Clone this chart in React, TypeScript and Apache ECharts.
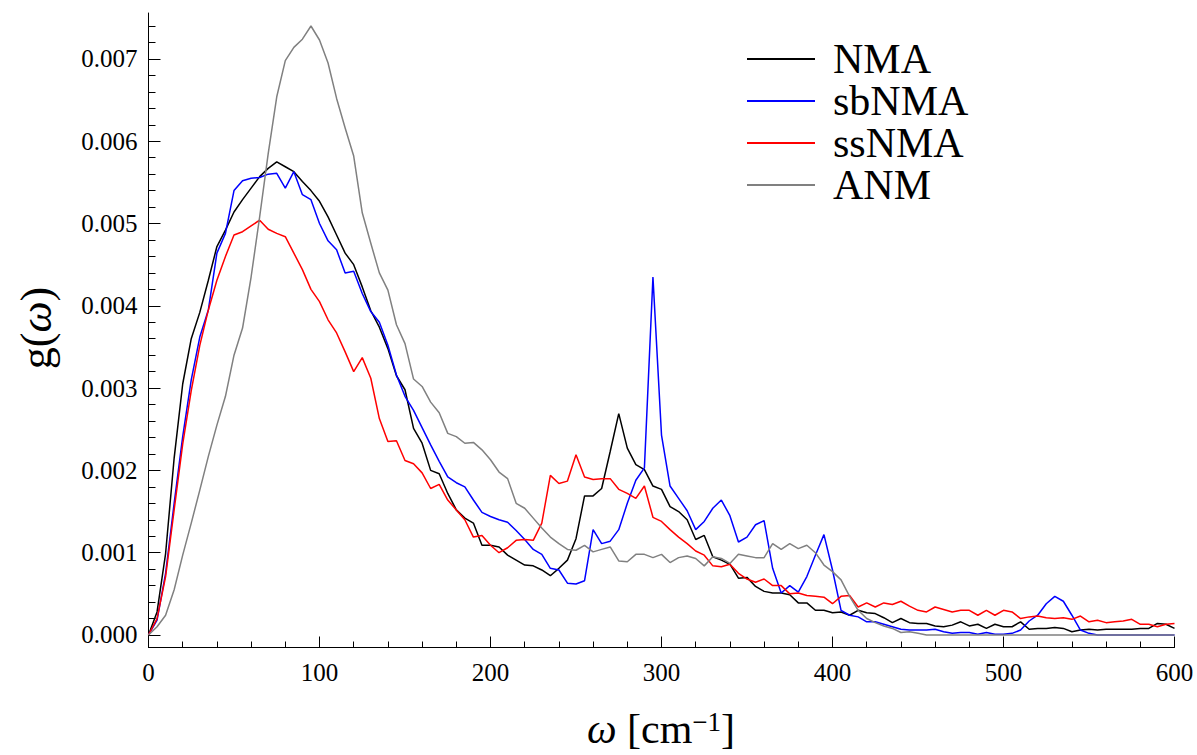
import React, { useEffect, useRef } from "react";
import * as echarts from "echarts";

const omega = [
  0, 5, 10, 15, 20, 25, 30, 35, 40, 45, 50, 55, 60, 65, 70, 75, 80, 85, 90, 95,
  100, 105, 110, 115, 120, 125, 130, 135, 140, 145, 150, 155, 160, 165, 170, 175, 180, 185, 190, 195,
  200, 205, 210, 215, 220, 225, 230, 235, 240, 245, 250, 255, 260, 265, 270, 275, 280, 285, 290, 295,
  300, 305, 310, 315, 320, 325, 330, 335, 340, 345, 350, 355, 360, 365, 370, 375, 380, 385, 390, 395,
  400, 405, 410, 415, 420, 425, 430, 435, 440, 445, 450, 455, 460, 465, 470, 475, 480, 485, 490, 495,
  500, 505, 510, 515, 520, 525, 530, 535, 540, 545, 550, 555, 560, 565, 570, 575, 580, 585, 590, 595,
  600,
];

const nma = [
  0, 0.00028, 0.00099, 0.00215, 0.00305, 0.0036, 0.00392, 0.00431, 0.00472, 0.00492,
  0.00514, 0.00529, 0.00543, 0.00557, 0.00567, 0.00575, 0.00569, 0.00563, 0.00551, 0.0054,
  0.00527, 0.00508, 0.00486, 0.00464, 0.0045, 0.00423, 0.00394, 0.00374, 0.00348, 0.00315,
  0.00298, 0.00251, 0.00233, 0.002, 0.00196, 0.00172, 0.00152, 0.00142, 0.00136, 0.00109,
  0.00109, 0.00107, 0.00097, 0.00091, 0.00085, 0.00084, 0.00079, 0.00072, 0.00081, 0.00091,
  0.00117, 0.00169, 0.00169, 0.00178, 0.00223, 0.00269, 0.00227, 0.00207, 0.00201, 0.00181,
  0.00177, 0.00156, 0.0015, 0.0014, 0.00116, 0.00121, 0.00095, 0.00091, 0.00086, 0.00069,
  0.0007, 0.00059, 0.00053, 0.00051, 0.00051, 0.00049, 0.00039, 0.00039, 0.0003, 0.0003,
  0.00027, 0.00028, 0.00024, 0.0003, 0.00027, 0.00026, 0.00021, 0.00015, 0.0002, 0.00015,
  0.00014, 0.00014, 0.00011, 0.0001, 0.00012, 0.00016, 0.00011, 0.00013, 0.00008, 0.00013,
  0.0001, 0.0001, 0.00016, 0.00007, 0.00008, 0.00008, 0.00009, 0.00008, 0.00004, 0.00006,
  0.00007, 0.00006, 0.00007, 0.00007, 0.00007, 0.00007, 0.00008, 0.00008, 0.00014, 0.00013,
  0.00008,
];

const sbnma = [
  0, 0.00018, 0.00075, 0.0016, 0.00241, 0.0031, 0.00362, 0.00395, 0.00464, 0.00488,
  0.0054, 0.00552, 0.00555, 0.00556, 0.0056, 0.00561, 0.00543, 0.00563, 0.00535, 0.00529,
  0.005, 0.00479, 0.00468, 0.0044, 0.00442, 0.00415, 0.00393, 0.0038, 0.00352, 0.00316,
  0.0029, 0.00273, 0.00252, 0.00231, 0.00211, 0.00192, 0.00185, 0.0018, 0.00164, 0.00149,
  0.00144, 0.0014, 0.00137, 0.00127, 0.00116, 0.00104, 0.00098, 0.00081, 0.00079, 0.00063,
  0.00062, 0.00066, 0.00128, 0.00111, 0.00114, 0.00128, 0.0016, 0.00188, 0.00203, 0.00435,
  0.00243, 0.00181, 0.00166, 0.00151, 0.00128, 0.00138, 0.00154, 0.00164, 0.00145, 0.00113,
  0.00119, 0.00134, 0.00139, 0.00081, 0.00051, 0.0006, 0.00052, 0.00071, 0.00097, 0.00122,
  0.00079, 0.0003, 0.00024, 0.00022, 0.00016, 0.00016, 0.00013, 0.0001, 0.00007, 0.00006,
  0.00006, 0.00006, 0.00007, 0.00004, 0.00002, 0.00003, 0.00003, 0.00001, 0.00003, 0.00001,
  0.00001, 0.00002, 0.00006, 0.00017, 0.00024, 0.00038, 0.00047, 0.00041, 0.00024, 0.00006,
  0.00002, 0, 0, 0, 0, 0, 0, 0, 0, 0,
  0,
];

const ssnma = [
  0, 0.0002, 0.00071, 0.00152, 0.00232, 0.00297, 0.00352, 0.00395, 0.00431, 0.0046,
  0.00486, 0.0049, 0.00497, 0.00504, 0.00493, 0.00488, 0.00484, 0.00464, 0.00444, 0.0042,
  0.00405, 0.00383, 0.00367, 0.00344, 0.0032, 0.00337, 0.00312, 0.00263, 0.00235, 0.00236,
  0.00212, 0.00208, 0.00197, 0.00178, 0.00183, 0.00164, 0.00152, 0.0014, 0.00119, 0.00121,
  0.00109, 0.001, 0.00106, 0.00115, 0.00116, 0.00115, 0.00136, 0.00194, 0.00184, 0.00187,
  0.00219, 0.00192, 0.00189, 0.0019, 0.0019, 0.00177, 0.00172, 0.00166, 0.00181, 0.00143,
  0.00138, 0.00128, 0.00119, 0.00111, 0.00102, 0.00097, 0.00084, 0.00083, 0.00086, 0.00075,
  0.00068, 0.00064, 0.00068, 0.0006, 0.0006, 0.0005, 0.00051, 0.00048, 0.00047, 0.00046,
  0.00038, 0.00047, 0.00048, 0.00034, 0.00039, 0.00034, 0.00039, 0.00037, 0.00041, 0.00035,
  0.0003, 0.00028, 0.00034, 0.00031, 0.00028, 0.0003, 0.0003, 0.00024, 0.0003, 0.00024,
  0.0003, 0.00028, 0.0002, 0.00022, 0.00023, 0.00021, 0.0002, 0.00021, 0.00019, 0.00023,
  0.00016, 0.00018, 0.00015, 0.00016, 0.00017, 0.00019, 0.00013, 0.00013, 0.0001, 0.00013,
  0.00014,
];

const anm = [
  0, 0.0001, 0.00024, 0.00055, 0.00097, 0.00136, 0.00176, 0.00217, 0.00255, 0.0029,
  0.0034, 0.00373, 0.00435, 0.00508, 0.00585, 0.00654, 0.00698, 0.00714, 0.00724, 0.0074,
  0.00723, 0.00695, 0.00652, 0.00616, 0.00582, 0.00513, 0.00476, 0.0044, 0.00419, 0.00377,
  0.00354, 0.00311, 0.00302, 0.00283, 0.0027, 0.00245, 0.00241, 0.00233, 0.00234, 0.00225,
  0.00213, 0.00198, 0.0019, 0.0016, 0.00154, 0.00142, 0.0013, 0.00119, 0.00111, 0.00104,
  0.00103, 0.00109, 0.00101, 0.00104, 0.00107, 0.0009, 0.00089, 0.00098, 0.00098, 0.00094,
  0.00098, 0.00088, 0.00094, 0.00096, 0.00093, 0.00084, 0.00095, 0.00093, 0.00087, 0.00098,
  0.00096, 0.00094, 0.00094, 0.00111, 0.00104, 0.00111, 0.00105, 0.00109, 0.001, 0.00085,
  0.00077, 0.00067, 0.00047, 0.0003, 0.0002, 0.00015, 0.00011, 0.00008, 0.00003, 0.00004,
  0.00002, 0, 0, 0, 0, 0, 0, 0, 0, 0,
  0, 0, 0, 0, 0, 0, 0, 0, 0, 0,
  0, 0, 0, 0, 0, 0, 0, 0, 0, 0,
  0,
];

const seriesNames = ["NMA", "sbNMA", "ssNMA", "ANM"];
const seriesColors = ["#000000", "#0000ff", "#ff0000", "#808080"];
const seriesValues = [nma, sbnma, ssnma, anm];

const yMajorTicks = [0, 0.001, 0.002, 0.003, 0.004, 0.005, 0.006, 0.007];
const yMinorTicks = [
  0, 0.0002, 0.0004, 0.0006, 0.0008, 0.001, 0.0012, 0.0014, 0.0016, 0.0018,
  0.002, 0.0022, 0.0024, 0.0026, 0.0028, 0.003, 0.0032, 0.0034, 0.0036, 0.0038,
  0.004, 0.0042, 0.0044, 0.0046, 0.0048, 0.005, 0.0052, 0.0054, 0.0056, 0.0058,
  0.006, 0.0062, 0.0064, 0.0066, 0.0068, 0.007, 0.0072, 0.0074,
];

const FONT = '"Liberation Serif", "Times New Roman", serif';

export default function App() {
  const ref = useRef<HTMLDivElement>(null);

  useEffect(() => {
    if (!ref.current) return;
    const chart = echarts.init(ref.current, undefined, { renderer: "svg" });
    const yMin = -0.000152;
    const yMax = 0.007558;

    chart.setOption({
      animation: false,
      backgroundColor: "#ffffff",
      grid: { left: 148.5, right: 22.5, top: 13, bottom: 107.5, containLabel: false },
      legend: {
        orient: "vertical",
        left: 747,
        top: 38,
        padding: 0,
        itemGap: 0,
        itemWidth: 68,
        itemHeight: 2,
        icon: "rect",
        data: seriesNames,
        textStyle: {
          fontFamily: FONT,
          fontSize: 42,
          color: "#000",
          lineHeight: 41,
          padding: [0, 0, 0, 13],
        },
      },
      xAxis: {
        type: "value",
        min: 0,
        max: 600,
        interval: 100,
        axisLine: { onZero: false, lineStyle: { color: "#000", width: 1 } },
        axisTick: { inside: true, length: 11, lineStyle: { color: "#000" } },
        minorTick: { show: true, splitNumber: 5, length: 6, lineStyle: { color: "#000" } },
        splitLine: { show: false },
        minorSplitLine: { show: false },
        axisLabel: { fontFamily: FONT, fontSize: 25, color: "#000", margin: 12 },
      },
      yAxis: [
        {
          type: "value",
          min: yMin,
          max: yMax,
          position: "left",
          offset: 0,
          axisLine: { show: true, lineStyle: { color: "#000", width: 1 } },
          axisTick: {
            show: true,
            inside: true,
            length: 12,
            customValues: yMajorTicks,
            lineStyle: { color: "#000" },
          },
          splitLine: { show: false },
          axisLabel: {
            fontFamily: FONT,
            fontSize: 25,
            color: "#000",
            margin: 11,
            customValues: yMajorTicks,
            formatter: (v: number) => v.toFixed(3),
          },
        },
        {
          type: "value",
          min: yMin,
          max: yMax,
          position: "left",
          offset: 0,
          axisLine: { show: false },
          axisTick: {
            show: true,
            inside: true,
            length: 7,
            customValues: yMinorTicks,
            lineStyle: { color: "#000" },
          },
          splitLine: { show: false },
          axisLabel: { show: false },
        },
      ],
      series: seriesNames.map((name, si) => ({
        name,
        type: "line",
        yAxisIndex: 0,
        symbol: "none",
        showSymbol: false,
        color: seriesColors[si],
        lineStyle: { color: seriesColors[si], width: 1.5 },
        data: omega.map((w, i) => [w, seriesValues[si][i]]),
      })),
      graphic: [
        {
          type: "text",
          x: 661,
          y: 729,
          style: {
            text: "{w|ω }{n|[cm}{s|−1}{n|]}",
            align: "center",
            verticalAlign: "middle",
            fill: "#000",
            rich: {
              w: { fontFamily: FONT, fontSize: 42, fontStyle: "italic", lineHeight: 42 },
              n: { fontFamily: FONT, fontSize: 42, lineHeight: 42 },
              s: { fontFamily: FONT, fontSize: 27, lineHeight: 27, verticalAlign: "top" },
            },
          },
        },
        {
          type: "text",
          x: 36,
          y: 328,
          rotation: Math.PI / 2,
          style: {
            text: "{n|g(}{w|ω}{n|)}",
            align: "center",
            verticalAlign: "middle",
            fill: "#000",
            rich: {
              w: { fontFamily: FONT, fontSize: 44, fontStyle: "italic" },
              n: { fontFamily: FONT, fontSize: 44 },
            },
          },
        },
      ],
    });

    return () => chart.dispose();
  }, []);

  return (
    <div
      ref={ref}
      style={{ position: "fixed", left: 0, top: 0, width: 1197, height: 755, background: "#fff" }}
    />
  );
}
